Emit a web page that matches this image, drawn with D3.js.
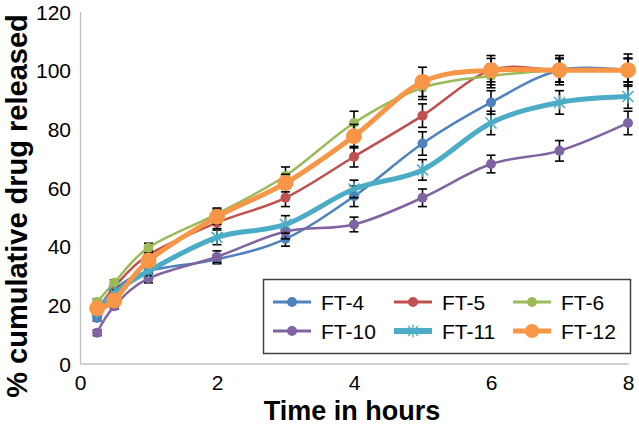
<!DOCTYPE html>
<html><head><meta charset="utf-8">
<script src="https://cdn.jsdelivr.net/npm/d3@7"></script>
<style>body{margin:0;background:#fff}svg{display:block}text{font-family:"Liberation Sans",Arial,sans-serif}</style>
</head><body><svg id="c" width="639" height="427"></svg>
<script>
const time = [0.25, 0.5, 1, 2, 3, 4, 5, 6, 7, 8];
const ft4  = [15.5, 25, 31.5, 35.5, 42.5, 57, 75, 89, 100, 100];
const ft5  = [18, 26, 37, 48, 56.5, 70.5, 84.5, 100, 100, 100];
const ft6  = [21, 27.5, 39.5, 51, 64, 82, 94, 98, 100, 100];
const ft10 = [10.5, 19.5, 29, 36.4, 45, 47.4, 56.5, 68, 72.5, 82];
const ft11 = [18, 24, 31.5, 43, 47.4, 59.5, 66, 82, 89, 91];
const ft12 = [18.8, 21.5, 35, 50, 61.5, 77.5, 96, 100, 100, 100];
const err4  = [1, 1, 1.5, 1.5, 2.5, 3.5, 4, 4, 4, 4];
const err5  = [1, 1, 1.5, 2, 3, 3.5, 4, 4, 4, 4];
const err6  = [1, 1, 1.5, 2, 3, 4, 4, 4, 4, 4];
const err10 = [1, 1, 1.5, 2, 2.5, 2.5, 3, 3, 3.5, 4];
const err11 = [1, 1, 1.5, 2.5, 3, 3, 3.5, 4, 4, 4];
const err12 = [1, 1, 2, 2.5, 3, 4, 5, 5, 5, 5.5];
const seriesNames = ["FT-4", "FT-5", "FT-6", "FT-10", "FT-11", "FT-12"];
const xTicks = [0, 2, 4, 6, 8];
const yTicks = [0, 20, 40, 60, 80, 100, 120];

const colors = ["#4F81BD", "#C0504D", "#9BBB59", "#8064A2", "#4BACC6", "#F79646"];
const widths = [2.5, 2.5, 2.5, 2.5, 5, 5];
const radii = [5, 5, 5, 5, 0, 8];
const values = [ft4, ft5, ft6, ft10, ft11, ft12];
const errs = [err4, err5, err6, err10, err11, err12];

const svg = d3.select("#c");
const x = d3.scaleLinear().domain([0, 8]).range([80, 628]);
const y = d3.scaleLinear().domain([0, 120]).range([363.5, 11.5]);

// axes
const xa = svg.append("g").attr("transform", "translate(0,363.5)")
  .call(d3.axisBottom(x).tickValues(xTicks).tickSize(0).tickPadding(12));
const ya = svg.append("g").attr("transform", "translate(80,0)")
  .call(d3.axisLeft(y).tickValues(yTicks).tickSize(0).tickPadding(9));
[xa, ya].forEach(a => {
  a.select(".domain").attr("stroke", "#BFBFBF").attr("stroke-width", 1.3);
  a.selectAll("text").attr("font-size", 21).attr("fill", "#000")
   .attr("font-family", "'Liberation Sans',Arial,sans-serif");
});
ya.selectAll("text").attr("dy", "0.36em");

svg.append("text").attr("x", 352).attr("y", 420).attr("text-anchor", "middle")
  .attr("font-size", 27).attr("font-weight", "bold").text("Time in hours");
svg.append("text").attr("transform", "translate(27,206) rotate(-90)")
  .attr("text-anchor", "middle").attr("font-size", 29).attr("font-weight", "bold")
  .text("% cumulative drug released");

const line = d3.line().x(d => x(d[0])).y(d => y(d[1])).curve(d3.curveCardinal.tension(0));

function starPath(s) {
  return `M${-s},${-s}L${s},${s}M${-s},${s}L${s},${-s}M0,${-s * 1.3}L0,${s * 1.3}`;
}

values.forEach((vals, i) => {
  const pts = time.map((t, j) => [t, vals[j], errs[i][j]]);
  const g = svg.append("g");
  // error bars
  const eb = g.append("g").attr("stroke", "#000").attr("stroke-width", 1.6);
  pts.forEach(p => {
    const cx = x(p[0]), y1 = y(p[1] + p[2]), y2 = y(p[1] - p[2]);
    eb.append("line").attr("x1", cx).attr("x2", cx).attr("y1", y1).attr("y2", y2);
    eb.append("line").attr("x1", cx - 4.5).attr("x2", cx + 4.5).attr("y1", y1).attr("y2", y1);
    eb.append("line").attr("x1", cx - 4.5).attr("x2", cx + 4.5).attr("y1", y2).attr("y2", y2);
  });
  g.append("path").attr("d", line(pts)).attr("fill", "none")
    .attr("stroke", colors[i]).attr("stroke-width", widths[i]).attr("stroke-linejoin", "round");
  if (i === 4) {
    g.selectAll("path.m").data(pts).join("path").attr("class", "m")
      .attr("transform", d => `translate(${x(d[0])},${y(d[1])})`)
      .attr("d", starPath(5.5)).attr("stroke", colors[i]).attr("stroke-width", 1.5).attr("fill", "none");
  } else {
    g.selectAll("circle").data(pts).join("circle")
      .attr("cx", d => x(d[0])).attr("cy", d => y(d[1])).attr("r", radii[i]).attr("fill", colors[i]);
  }
});

// legend
const lg = svg.append("g");
lg.append("rect").attr("x", 263.5).attr("y", 279.5).attr("width", 367).attr("height", 74)
  .attr("fill", "#fff").attr("stroke", "#404040").attr("stroke-width", 1.5);
const colX = [273, 394, 513];
const rowY = [302, 331];
seriesNames.forEach((name, i) => {
  const cx = colX[i % 3], cy = rowY[Math.floor(i / 3)];
  const lw = i === 4 ? 6 : (i === 5 ? 5 : 3);
  lg.append("line").attr("x1", cx).attr("x2", cx + 38).attr("y1", cy).attr("y2", cy)
    .attr("stroke", colors[i]).attr("stroke-width", lw);
  if (i === 4) {
    lg.append("path").attr("transform", `translate(${cx + 19},${cy})`).attr("d", starPath(5))
      .attr("stroke", colors[i]).attr("stroke-width", 1.3).attr("fill", "none");
  } else {
    lg.append("circle").attr("cx", cx + 19).attr("cy", cy).attr("r", i === 5 ? 7 : 5).attr("fill", colors[i]);
  }
  lg.append("text").attr("x", cx + 48).attr("y", cy + 7.5).attr("font-size", 21).text(name);
});
</script></body></html>
